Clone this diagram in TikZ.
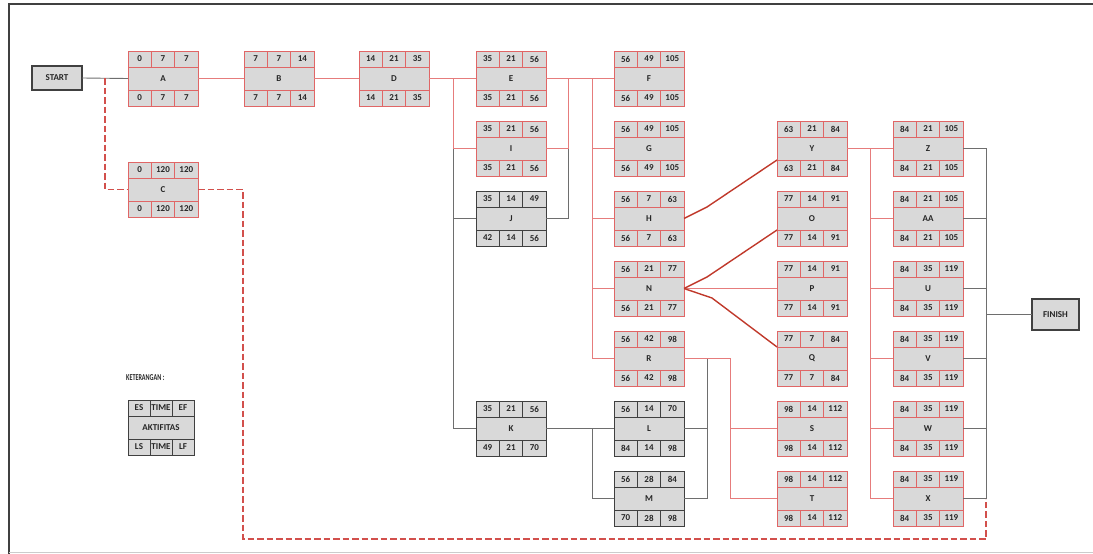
\documentclass[tikz,border=0pt]{standalone}
\usepackage{graphicx}
\usepackage{fontspec}
\setmainfont{Carlito}
\usetikzlibrary{calc}
\definecolor{critred}{HTML}{E06666}
\definecolor{linered}{HTML}{E67C7C}
\definecolor{darkred}{HTML}{C0392B}
\definecolor{dashred}{HTML}{D2504C}
\definecolor{boxfill}{HTML}{D9D9D9}
\definecolor{boxdark}{HTML}{404040}
\definecolor{linegray}{HTML}{6E6E6E}
\definecolor{txt}{HTML}{262626}
\tikzset{
  crit/.style={draw=critred, fill=boxfill},
  noncrit/.style={draw=boxdark, fill=boxfill},
  cellbase/.style={rectangle, inner sep=0pt, outer sep=0pt, line width=0.9pt, text=txt,
    font=\fontsize{9}{10}\selectfont\bfseries},
  termbox/.style={rectangle, draw=boxdark, fill=boxfill, line width=1.1pt, inner sep=0pt,
    outer sep=0pt, text=txt, font=\fontsize{9}{10}\selectfont\bfseries},
  redline/.style={draw=linered, line width=0.9pt},
  grayline/.style={draw=linegray, line width=0.9pt},
  diagline/.style={draw=darkred, line width=1.4pt},
  dashline/.style={draw=dashred, line width=1.6pt, dash pattern=on 6.5pt off 3pt},
}
\def\actw{70}
\newcommand{\act}[9]{%
  \pgfmathsetmacro\cw{\actw/3}%
  \node[cellbase,#1,minimum width=\actw pt,minimum height=23pt] (#2) at (#3+\actw/2,#4+27.5) {#2};
  \node[cellbase,#1,minimum width=\cw pt,minimum height=16pt] (#2-1) at (#3+\cw*0.5,#4+8) {#5};
  \node[cellbase,#1,minimum width=\cw pt,minimum height=16pt] (#2-2) at (#3+\cw*1.5,#4+8) {#6};
  \node[cellbase,#1,minimum width=\cw pt,minimum height=16pt] (#2-3) at (#3+\cw*2.5,#4+8) {#7};
  \node[cellbase,#1,minimum width=\cw pt,minimum height=16pt] (#2-4) at (#3+\cw*0.5,#4+47) {#8};
  \node[cellbase,#1,minimum width=\cw pt,minimum height=16pt] (#2-5) at (#3+\cw*1.5,#4+47) {#6};
  \node[cellbase,#1,minimum width=\cw pt,minimum height=16pt] (#2-6) at (#3+\cw*2.5,#4+47) {#9};
}
\begin{document}
\begin{tikzpicture}[x=1pt,y=-1pt]
\useasboundingbox (0,0) rectangle (1093,554);
% frame
\draw[line width=1.3pt, draw=black!75] (9,556) -- (9,4) -- (1096,4);
\draw[line width=0.8pt, draw=black!20] (9,552) -- (1096,552);

% terminals
\node[termbox, minimum width=50pt, minimum height=24pt] (START) at (57,78) {START};
\node[termbox, minimum width=47pt, minimum height=31pt] (FINISH) at (1055.5,314.5) {FINISH};

% activities
\act{crit}{A}{128}{51}{0}{7}{7}{0}{7}
\act{crit}{B}{244}{51}{7}{7}{14}{7}{14}
\act{crit}{C}{128}{162}{0}{120}{120}{0}{120}
\act{crit}{D}{359}{51}{14}{21}{35}{14}{35}
\act{crit}{E}{476}{51}{35}{21}{56}{35}{56}
\act{crit}{I}{476}{121}{35}{21}{56}{35}{56}
\act{noncrit}{J}{476}{191}{35}{14}{49}{42}{56}
\act{noncrit}{K}{476}{401}{35}{21}{56}{49}{70}
\act{crit}{F}{614}{51}{56}{49}{105}{56}{105}
\act{crit}{G}{614}{121}{56}{49}{105}{56}{105}
\act{crit}{H}{614}{191}{56}{7}{63}{56}{63}
\act{crit}{N}{614}{261}{56}{21}{77}{56}{77}
\act{crit}{R}{614}{331}{56}{42}{98}{56}{98}
\act{noncrit}{L}{614}{401}{56}{14}{70}{84}{98}
\act{noncrit}{M}{614}{471}{56}{28}{84}{70}{98}
\act{crit}{Y}{777}{121}{63}{21}{84}{63}{84}
\act{crit}{O}{777}{191}{77}{14}{91}{77}{91}
\act{crit}{P}{777}{261}{77}{14}{91}{77}{91}
\act{crit}{Q}{777}{331}{77}{7}{84}{77}{84}
\act{crit}{S}{777}{401}{98}{14}{112}{98}{112}
\act{crit}{T}{777}{471}{98}{14}{112}{98}{112}
\act{crit}{Z}{893}{121}{84}{21}{105}{84}{105}
\act{crit}{AA}{893}{191}{84}{21}{105}{84}{105}
\act{crit}{U}{893}{261}{84}{35}{119}{84}{119}
\act{crit}{V}{893}{331}{84}{35}{119}{84}{119}
\act{crit}{W}{893}{401}{84}{35}{119}{84}{119}
\act{crit}{X}{893}{471}{84}{35}{119}{84}{119}

% legend
\node[anchor=west, inner sep=0pt, text=txt, font=\fontsize{9}{10}\selectfont\bfseries] (ket) at (126,378) {\scalebox{0.68}[1]{KETERANGAN :}};
\def\actw{66}
\act{noncrit}{AKTIFITAS}{128}{400}{ES}{TIME}{EF}{LS}{LF}

% bus coordinates
\coordinate (s1) at (105,78);
\coordinate (d1) at (453,78);
\coordinate (e1) at (568,78);
\coordinate (f1) at (592,78);
\coordinate (r1) at (707,358.5);
\coordinate (r2) at (730,358.5);
\coordinate (y1) at (870,148.5);
\coordinate (z1) at (986,148.5);
\coordinate (xf) at (986,498.5);
\coordinate (c1) at (243,189.5);
\coordinate (c2) at (243,539);
\coordinate (cb) at (986,539);
\coordinate (hk) at (707,207);
\coordinate (nk1) at (707,277);
\coordinate (nk2) at (712,298);

% gray connectors
\draw[grayline] (START.east) -- (A.west);
\draw[grayline] (d1 |- I.west) |- (K.west);
\draw[grayline] (d1 |- J.west) -- (J.west);
\draw[grayline] (e1 |- I.east) |- (J.east);
\draw[grayline] (K.east) -- (L.west);
\draw[grayline] (f1 |- L.west) |- (M.west);
\draw[grayline] (L.east) -- (L.east -| r1);
\draw[grayline] (M.east) -| (r1);
\draw[grayline] (Z.east) -- (z1) -- (xf) -- (X.east);
\draw[grayline] (AA.east) -- (AA.east -| z1);
\draw[grayline] (U.east) -- (U.east -| z1);
\draw[grayline] (V.east) -- (V.east -| z1);
\draw[grayline] (W.east) -- (W.east -| z1);
\draw[grayline] (FINISH.west -| z1) -- (FINISH.west);

% red connectors
\draw[redline] (A.east) -- (B.west);
\draw[redline] (B.east) -- (D.west);
\draw[redline] (D.east) -- (E.west);
\draw[redline] (d1) |- (I.west);
\draw[redline] (E.east) -- (F.west);
\draw[redline] (e1) |- (I.east);
\draw[redline] (f1) |- (G.west);
\draw[redline] (f1) |- (H.west);
\draw[redline] (f1) |- (N.west);
\draw[redline] (f1) |- (R.west);
\draw[redline] (N.east) -- (P.west);
\draw[redline] (R.east) -- (r2) |- (S.west);
\draw[redline] (r2 |- S.west) |- (T.west);
\draw[redline] (Y.east) -- (Z.west);
\draw[redline] (y1) |- (AA.west);
\draw[redline] (y1) |- (U.west);
\draw[redline] (y1) |- (V.west);
\draw[redline] (y1) |- (W.west);
\draw[redline] (y1) |- (X.west);

% diagonal critical links
\draw[diagline] (H.east) -- (hk) -- (Y.south west);
\draw[diagline] (N.east) -- (nk1) -- (O.south west);
\draw[diagline] (N.east) -- (nk2) -- (Q.north west);

% dashed path through C
\draw[dashline] (s1) |- (C.west);
\draw[dashline] (C.east) -- (c1) -- (c2) -- (cb) -- (xf);
\end{tikzpicture}
\end{document}
